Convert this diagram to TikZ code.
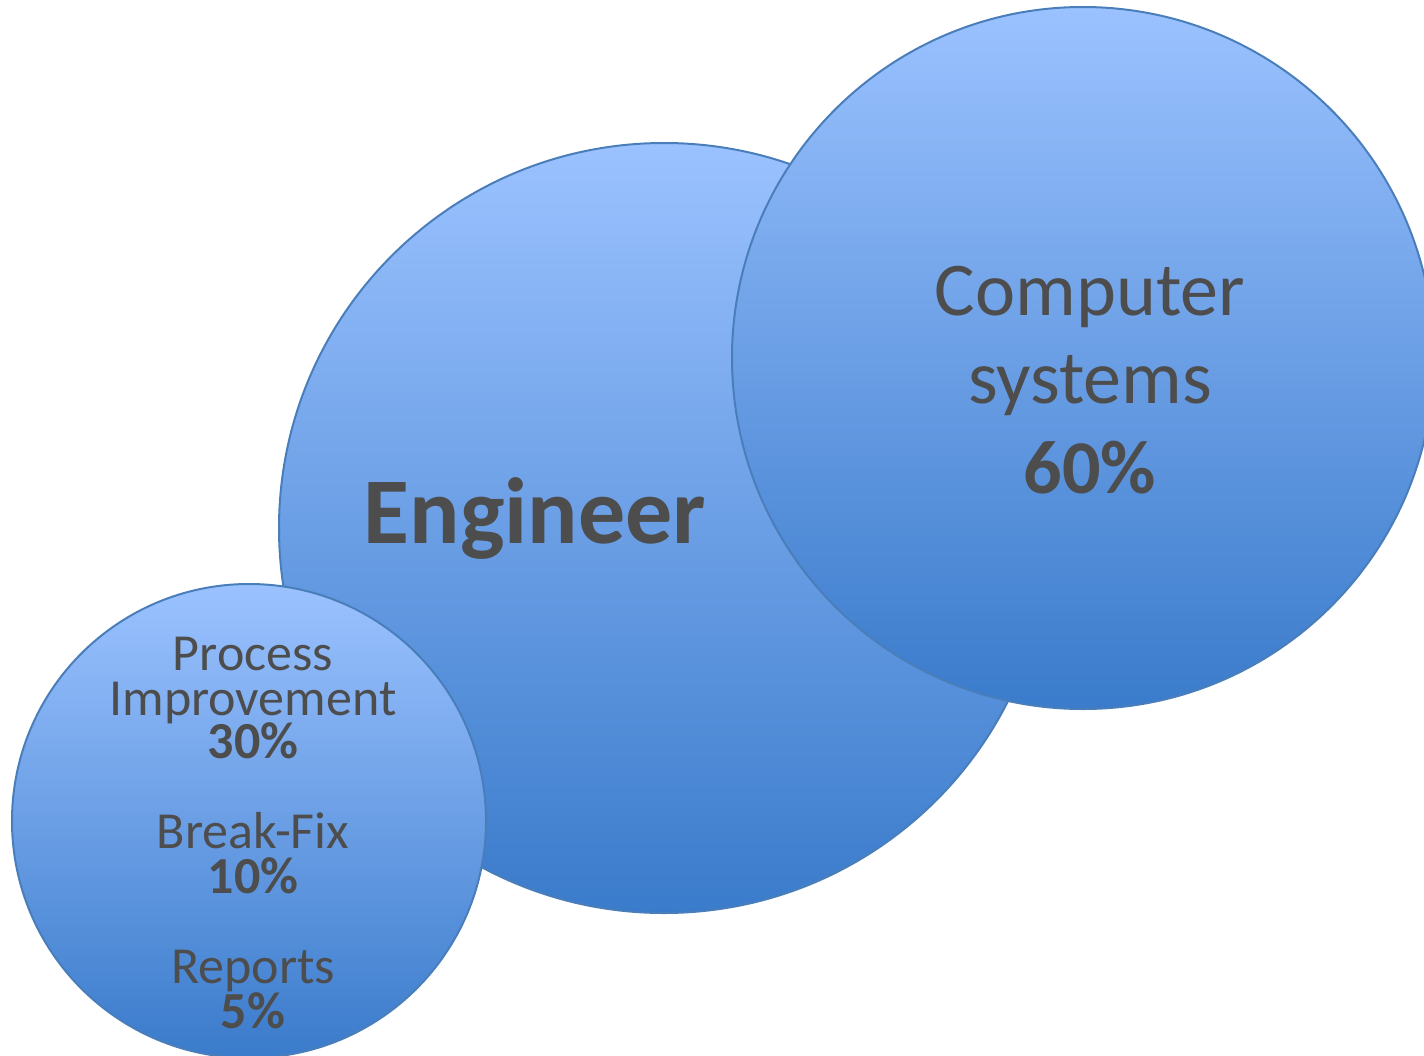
\documentclass[tikz,border=0pt]{standalone}
\usepackage{fontspec}
\setmainfont{Carlito}
\usepackage{tikz}
\definecolor{blobtop}{HTML}{9BC2FF}
\definecolor{blobbottom}{HTML}{3A7BCB}
\definecolor{blobline}{HTML}{4A7EBB}
\definecolor{labelgray}{HTML}{4D4D4D}
\tikzset{
  blob/.style={circle, draw=blobline, line width=1pt, inner sep=0pt,
    top color=blobtop, bottom color=blobbottom, minimum size=#1},
  lbl/.style={anchor=base, inner sep=0pt, text=labelgray}
}
\begin{document}
\begin{tikzpicture}[x=0.5pt, y=-0.5pt]
        % frame
        \clip (0,0) rectangle (1424,1055);
        % circles (diameters in pt, 1px = 0.5pt)
        \node[blob=385pt] (engineer) at (664,528) {};
        \node[blob=351pt] (computer) at (1083,358) {};
        \node[blob=237pt] (tasks) at (249,821) {};
        % big labels
        \node[lbl, font=\fontsize{47}{47}\selectfont\bfseries] (eng) at (535,543) {Engineer};
        \node[lbl, font=\fontsize{38}{38}\selectfont] (comp1) at (1090,315) {Computer};
        \node[lbl, font=\fontsize{38}{38}\selectfont] (comp2) at (1090,403) {systems};
        \node[lbl, font=\fontsize{38}{38}\selectfont\bfseries] (comp3) at (1090,493) {60\%};
        % small labels
        \foreach \y/\t/\f in {670/Process/\mdseries, 715/Improvement/\mdseries, 758/30\%/\bfseries,
            848/Break-Fix/\mdseries, 893/10\%/\bfseries, 983/Reports/\mdseries, 1028/5\%/\bfseries}
          \node[lbl, font=\fontsize{26}{26}\selectfont\f] at (253,\y) {\t};
      \end{tikzpicture}
\end{document}
